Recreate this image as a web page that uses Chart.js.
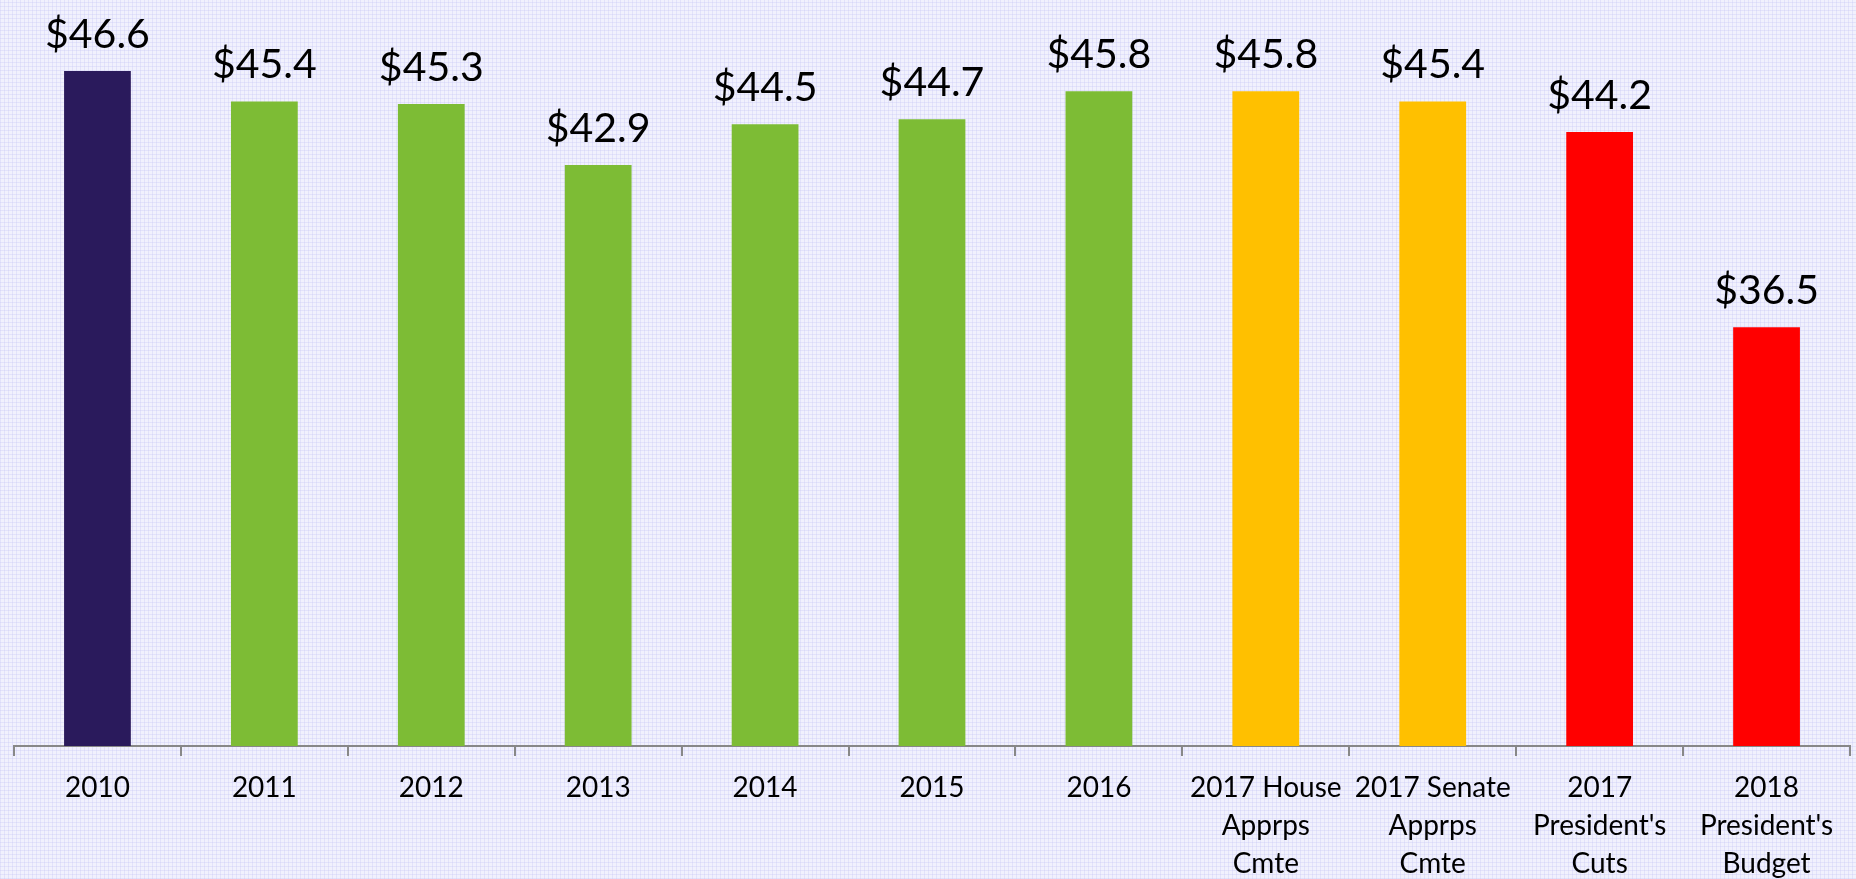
<!DOCTYPE html>
<html>
<head>
<meta charset="utf-8">
<script src="https://cdn.jsdelivr.net/npm/chart.js@4.4.1/dist/chart.umd.min.js"></script>
<style>
  html, body { margin: 0; padding: 0; }
  body {
    width: 1856px; height: 879px; overflow: hidden;
    background-color: #f1f1fd;
    background-image:
      repeating-linear-gradient(90deg, rgba(200,200,245,0.35) 0 1px, transparent 1px 4px),
      repeating-linear-gradient(0deg, rgba(200,200,245,0.35) 0 1px, transparent 1px 4px);
  }
  canvas { display: block; }
</style>
</head>
<body>
<canvas id="budget" width="1856" height="895"></canvas>
<script>
const categories = [
  '2010', '2011', '2012', '2013', '2014', '2015', '2016',
  ['2017 House', 'Apprps', 'Cmte'],
  ['2017 Senate', 'Apprps', 'Cmte'],
  ['2017', "President's", 'Cuts'],
  ['2018', "President's", 'Budget']
];
const values = [46.6, 45.4, 45.3, 42.9, 44.5, 44.7, 45.8, 45.8, 45.4, 44.2, 36.5];
const barColors = [
  '#2a1a5c', '#7dbc35', '#7dbc35', '#7dbc35', '#7dbc35', '#7dbc35', '#7dbc35',
  '#ffc000', '#ffc000', '#ff0000', '#ff0000'
];

// draws the "$xx.x" labels above each bar
const valueLabels = {
  id: 'valueLabels',
  afterDatasetsDraw(chart) {
    const ctx = chart.ctx;
    const meta = chart.getDatasetMeta(0);
    ctx.save();
    ctx.font = '41px Lato';
    ctx.fillStyle = '#000';
    ctx.textAlign = 'center';
    ctx.textBaseline = 'alphabetic';
    meta.data.forEach((bar, i) => {
      ctx.fillText('$' + values[i].toFixed(1), bar.x, bar.y - 23);
    });
    ctx.restore();
  }
};

const ctx = document.getElementById('budget');

new Chart(ctx, {
  type: 'bar',
  data: {
    labels: categories,
    datasets: [{
      data: values,
      backgroundColor: barColors,
      borderWidth: 0,
      barPercentage: 0.4,
      categoryPercentage: 1.0
    }]
  },
  options: {
    responsive: false,
    animation: false,
    layout: { padding: { left: 14, right: 6, top: 0, bottom: 0 } },
    plugins: {
      legend: { display: false },
      tooltip: { enabled: false }
    },
    scales: {
      y: {
        display: false,
        min: 20,
        max: 49.4
      },
      x: {
        grid: {
          display: true,
          drawOnChartArea: false,
          drawTicks: true,
          tickLength: 10,
          color: '#888888',
          lineWidth: 2
        },
        border: { display: true, color: '#888888', width: 2 },
        ticks: {
          color: '#000',
          font: { family: 'Lato', size: 28, lineHeight: 1.357 },
          padding: 12.5,
          maxRotation: 0,
          autoSkip: false
        }
      }
    }
  },
  plugins: [valueLabels]
});
</script>
</body>
</html>
